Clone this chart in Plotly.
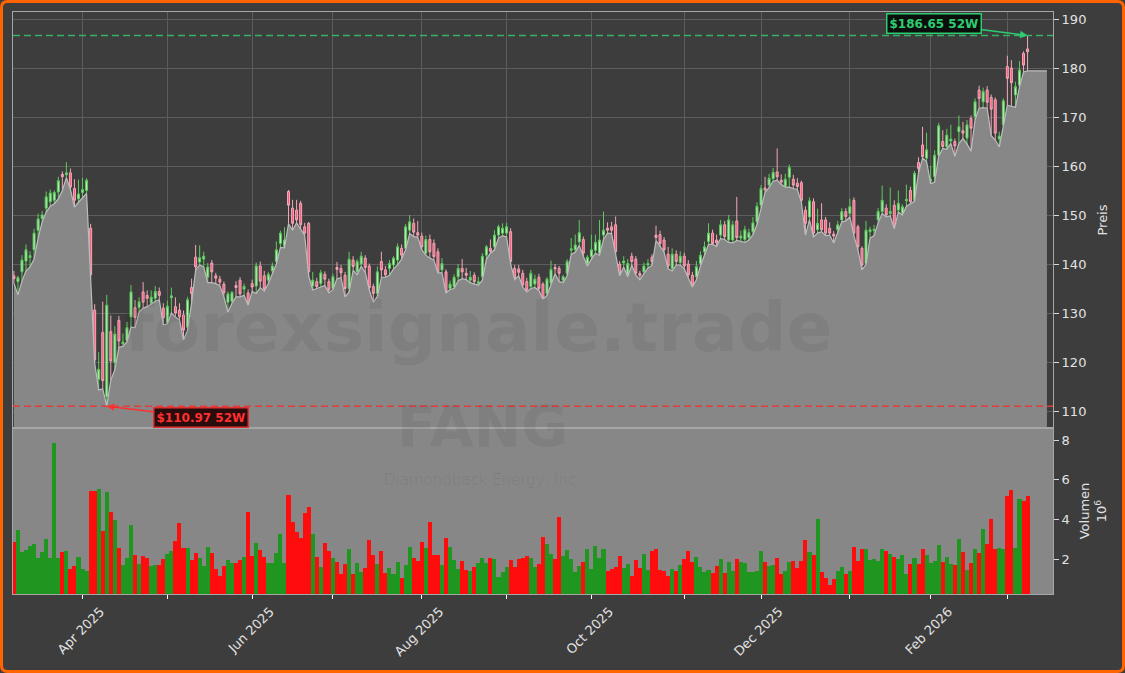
import pandas as pd
import plotly.graph_objects as go

# --- data (FANG daily) ---
HOLIDAYS = ["2025-04-18", "2025-05-26", "2025-06-19", "2025-07-04", "2025-09-01",
            "2025-11-27", "2025-12-25", "2026-01-01", "2026-01-19", "2026-02-16"]

opens = [
    137.6, 136.4, 138.4, 140.6, 141.3, 142.9, 146.9, 149.3, 151.4, 152.7,
    153.0, 154.7, 158.3, 158.2, 158.6, 155.4, 153.3, 154.6, 155.0, 147.3,
    130.6, 116.5, 126.0, 112.9, 126.2, 119.9, 128.5, 123.7, 124.4, 129.2,
    131.1, 131.1, 134.3, 133.6, 132.0, 133.0, 134.4, 131.0, 128.0, 133.1,
    131.3, 130.6, 129.6, 127.1, 135.2, 141.4, 140.4, 141.0, 137.3, 140.2,
    137.6, 136.9, 135.9, 132.2, 132.4, 135.6, 136.7, 134.9, 134.1, 136.0,
    135.5, 139.6, 137.6, 136.7, 138.6, 140.5, 144.2, 143.6, 154.8, 151.4,
    151.0, 152.4, 147.6, 148.3, 135.5, 136.4, 136.0, 137.9, 136.4, 135.0,
    139.3, 139.1, 137.7, 135.0, 140.8, 138.4, 140.0, 141.2, 139.6, 135.4,
    134.0, 140.5, 138.8, 139.1, 139.8, 140.8, 143.2, 143.2, 146.9, 148.3,
    146.4, 145.7, 142.2, 145.0, 144.2, 142.5, 138.8, 138.4, 135.0, 135.4,
    137.4, 139.1, 138.1, 136.7, 137.7, 136.0, 137.4, 141.8, 143.2, 143.5,
    145.9, 146.3, 146.3, 146.6, 139.1, 139.0, 138.1, 136.4, 135.4, 135.9,
    137.3, 135.9, 134.0, 136.1, 139.3, 139.1, 136.7, 138.1, 142.8, 142.9,
    144.5, 145.0, 140.1, 141.5, 142.8, 142.2, 145.9, 147.3, 147.6, 148.0,
    140.0, 140.2, 137.8, 141.6, 141.0, 138.1, 138.4, 139.8, 141.4, 145.9,
    146.0, 144.9, 142.0, 139.1, 142.0, 140.3, 141.6, 140.0, 137.7, 137.4,
    140.1, 142.5, 144.6, 146.3, 144.9, 145.9, 148.0, 144.9, 144.9, 148.8,
    145.3, 145.0, 145.4, 146.6, 148.6, 152.0, 155.5, 156.1, 157.4, 158.8,
    157.1, 155.9, 157.7, 157.3, 156.5, 156.6, 151.0, 149.6, 152.7, 147.0,
    149.0, 149.0, 147.3, 146.1, 147.0, 149.0, 150.7, 150.3, 153.0, 147.6,
    143.2, 140.1, 146.6, 146.8, 149.0, 150.7, 151.4, 150.3, 152.0, 151.0,
    150.4, 152.9, 155.0, 153.0, 160.7, 164.3, 161.6, 156.9, 157.8, 162.2,
    165.0, 163.9, 165.1, 165.0, 167.0, 167.2, 165.7, 169.7, 170.1, 175.5,
    173.1, 175.5, 174.0, 173.5, 165.5, 168.4, 180.3, 180.0, 174.5, 176.5, 183.0, 183.9,
]
highs = [
    138.6, 137.6, 141.8, 144.0, 142.6, 147.2, 150.3, 150.8, 154.8, 155.2,
    155.0, 157.8, 158.9, 160.8, 159.5, 157.3, 157.2, 157.6, 157.5, 148.2,
    131.8, 122.0, 132.3, 133.7, 129.5, 127.3, 129.4, 125.8, 128.2, 135.7,
    132.6, 133.2, 136.3, 134.6, 134.6, 135.5, 135.2, 132.0, 132.5, 135.2,
    133.2, 132.0, 130.5, 133.3, 137.0, 143.9, 143.8, 142.5, 140.2, 140.8,
    138.2, 137.6, 136.4, 134.4, 134.5, 136.5, 137.3, 136.0, 134.8, 136.8,
    140.3, 140.5, 138.6, 138.4, 140.3, 144.6, 146.8, 147.5, 155.1, 153.1,
    153.1, 152.9, 148.4, 148.6, 138.4, 137.2, 138.8, 138.5, 137.0, 138.0,
    140.4, 139.8, 138.4, 142.5, 141.6, 141.0, 142.5, 141.8, 140.1, 136.0,
    139.5, 142.5, 139.6, 140.8, 141.6, 144.2, 144.0, 148.2, 150.0, 149.3,
    148.8, 146.4, 145.8, 146.0, 145.0, 143.2, 141.2, 138.9, 136.6, 137.9,
    140.0, 141.0, 139.2, 138.6, 138.3, 137.4, 142.2, 143.9, 145.0, 146.9,
    148.0, 148.3, 148.4, 147.3, 139.8, 139.8, 138.8, 137.2, 138.8, 137.8,
    138.0, 136.3, 137.3, 140.7, 140.0, 139.6, 137.8, 141.0, 145.3, 146.0,
    149.0, 145.6, 141.8, 146.0, 146.0, 149.0, 150.7, 148.5, 148.6, 149.7,
    140.6, 141.6, 141.0, 142.3, 141.6, 138.6, 140.3, 141.0, 142.0, 147.8,
    146.8, 145.5, 143.5, 143.2, 142.8, 142.6, 142.3, 140.8, 138.4, 140.6,
    142.6, 144.6, 148.3, 147.0, 146.0, 149.0, 148.8, 150.0, 148.8, 153.7,
    146.8, 147.8, 147.2, 149.6, 152.6, 156.1, 157.8, 158.4, 159.6, 163.6,
    158.3, 158.4, 160.3, 158.2, 157.5, 157.0, 151.8, 153.6, 153.4, 151.3,
    152.4, 149.6, 148.5, 146.7, 148.8, 151.4, 151.4, 153.3, 153.6, 148.0,
    143.6, 148.8, 147.6, 148.0, 151.4, 156.0, 152.2, 155.6, 153.0, 155.0,
    152.2, 156.2, 155.8, 159.0, 161.8, 168.0, 166.8, 160.0, 163.2, 168.8,
    167.3, 167.6, 168.4, 165.6, 170.3, 169.0, 169.4, 170.3, 173.8, 176.4,
    176.0, 176.3, 174.6, 174.0, 167.0, 173.8, 182.5, 181.6, 177.2, 181.4, 183.4, 186.65,
]
lows = [
    136.1, 133.7, 136.5, 138.6, 139.4, 141.0, 145.3, 148.6, 150.6, 151.8,
    152.3, 153.3, 155.0, 157.6, 155.2, 151.6, 152.6, 153.6, 154.4, 137.2,
    119.8, 114.3, 114.5, 110.97, 116.3, 118.4, 123.0, 123.2, 124.1, 127.1,
    127.0, 130.2, 131.0, 131.3, 131.8, 132.4, 132.7, 127.6, 127.8, 130.0,
    129.2, 128.6, 124.5, 126.5, 132.0, 138.8, 139.8, 139.4, 136.2, 136.2,
    136.0, 135.6, 133.3, 130.2, 132.0, 133.3, 133.3, 133.6, 131.6, 134.4,
    134.0, 135.2, 134.5, 136.0, 138.0, 140.0, 143.4, 143.3, 148.2, 146.9,
    148.4, 147.0, 145.9, 137.5, 134.7, 135.0, 135.3, 135.6, 134.1, 134.8,
    137.0, 137.2, 133.3, 134.3, 138.7, 137.8, 139.5, 138.3, 134.7, 132.2,
    133.4, 137.3, 137.3, 137.7, 139.0, 139.8, 141.0, 142.9, 146.2, 145.6,
    145.5, 142.9, 141.8, 141.2, 140.8, 138.2, 138.2, 134.1, 134.8, 135.0,
    136.6, 137.0, 136.8, 136.2, 135.9, 135.7, 136.7, 141.0, 142.2, 142.9,
    145.3, 145.8, 145.5, 140.0, 136.8, 137.6, 135.3, 134.3, 135.0, 135.2,
    134.6, 132.9, 133.6, 135.7, 138.0, 136.4, 136.2, 137.6, 142.0, 142.4,
    143.8, 141.6, 139.6, 141.0, 142.2, 141.8, 145.0, 146.3, 146.2, 142.0,
    137.6, 139.4, 137.4, 139.8, 137.7, 136.8, 137.9, 139.2, 139.7, 144.8,
    143.6, 142.4, 139.0, 138.6, 139.8, 139.8, 139.0, 137.3, 135.3, 136.8,
    139.6, 141.8, 144.0, 144.0, 143.6, 145.2, 145.0, 144.4, 144.3, 144.8,
    144.6, 144.4, 144.9, 146.0, 148.0, 151.4, 154.6, 155.6, 156.9, 157.1,
    156.2, 155.7, 155.7, 155.4, 155.2, 152.6, 145.9, 149.0, 145.5, 146.3,
    146.6, 145.8, 145.9, 144.3, 146.4, 148.6, 148.8, 149.6, 145.8, 142.9,
    138.8, 139.9, 145.3, 145.8, 148.4, 150.3, 149.6, 149.8, 147.2, 150.6,
    150.0, 151.8, 152.3, 152.8, 158.6, 161.6, 160.9, 156.4, 156.7, 162.0,
    163.6, 163.4, 164.6, 162.0, 164.6, 165.6, 164.5, 163.0, 169.4, 171.8,
    171.9, 171.8, 166.2, 165.3, 163.9, 168.0, 172.4, 172.2, 172.0, 176.1, 179.2, 179.4,
]
closes = [
    137.0, 137.2, 140.8, 142.9, 141.7, 146.3, 149.2, 150.0, 153.7, 154.5,
    154.6, 157.0, 157.8, 158.6, 155.7, 153.0, 154.3, 155.2, 157.1, 137.8,
    120.4, 118.5, 116.2, 131.6, 120.2, 125.7, 124.3, 124.1, 127.0, 134.3,
    129.1, 132.3, 132.2, 133.0, 133.2, 134.4, 133.6, 129.0, 131.4, 133.5,
    130.0, 129.2, 126.5, 132.7, 134.0, 139.4, 141.3, 141.6, 139.4, 138.4,
    137.1, 136.3, 134.1, 133.9, 134.2, 135.2, 133.9, 135.4, 132.1, 135.3,
    139.6, 136.5, 134.9, 137.9, 139.6, 142.9, 146.3, 144.9, 152.0, 148.3,
    149.0, 148.0, 146.3, 138.4, 136.7, 135.4, 138.2, 136.9, 134.7, 137.4,
    138.9, 138.2, 135.0, 141.0, 139.5, 140.5, 141.6, 139.3, 135.2, 134.0,
    138.4, 138.8, 137.8, 140.1, 141.2, 143.5, 141.8, 147.6, 148.6, 146.5,
    145.9, 143.5, 145.0, 142.5, 141.5, 138.4, 140.1, 134.4, 135.9, 137.3,
    139.1, 138.4, 137.7, 137.3, 136.4, 136.4, 141.6, 143.5, 142.6, 145.9,
    147.6, 147.3, 147.6, 140.5, 137.1, 138.3, 135.7, 134.7, 138.1, 136.9,
    135.0, 133.0, 136.9, 138.9, 139.0, 138.1, 137.4, 140.5, 143.1, 143.9,
    146.4, 142.2, 141.4, 142.9, 144.4, 144.9, 146.9, 146.9, 146.9, 142.5,
    138.1, 140.6, 140.1, 140.5, 138.1, 137.6, 139.6, 140.1, 140.5, 145.4,
    144.2, 142.9, 139.6, 142.0, 140.5, 141.6, 139.6, 137.8, 135.7, 139.5,
    141.8, 143.5, 146.3, 144.2, 144.3, 148.0, 145.6, 149.0, 148.0, 145.4,
    145.7, 147.0, 146.4, 148.4, 151.8, 155.4, 155.1, 157.5, 158.7, 157.8,
    156.7, 157.3, 159.7, 156.1, 155.8, 153.0, 148.3, 152.9, 146.3, 148.3,
    147.0, 146.3, 146.3, 145.7, 148.0, 150.7, 149.7, 151.7, 146.3, 143.5,
    139.8, 146.9, 147.0, 147.1, 150.7, 153.0, 150.0, 150.7, 147.6, 152.4,
    151.7, 153.2, 152.7, 158.5, 159.5, 161.9, 163.3, 157.3, 162.2, 168.2,
    164.0, 166.3, 165.5, 164.1, 168.0, 166.7, 168.4, 167.7, 173.1, 173.8,
    175.2, 173.0, 171.6, 166.7, 166.1, 173.3, 177.9, 177.0, 176.2, 179.6, 180.6, 183.3,
]
volume_mio = [
    2.84, 3.46, 2.37, 2.46, 2.66, 2.76, 2.03, 2.37, 3.01, 2.07,
    7.87, 2.07, 2.35, 2.40, 1.50, 1.67, 2.10, 1.50, 1.40, 5.45,
    5.45, 5.53, 3.41, 5.38, 4.37, 3.97, 2.56, 1.70, 2.07, 3.72,
    2.22, 1.75, 2.15, 2.07, 1.67, 1.70, 1.70, 2.02, 2.24, 2.40,
    2.91, 3.83, 2.57, 2.57, 1.95, 2.32, 2.07, 1.67, 2.62, 2.30,
    1.50, 1.16, 1.67, 1.95, 1.82, 1.82, 1.95, 2.12, 4.39, 2.15,
    2.83, 2.46, 2.12, 1.82, 1.78, 2.32, 3.26, 1.82, 5.23, 3.88,
    3.38, 3.04, 4.30, 4.60, 3.26, 2.12, 1.60, 2.79, 2.40, 2.07,
    1.83, 1.25, 1.75, 2.50, 1.25, 1.78, 1.36, 1.56, 2.96, 2.20,
    1.75, 2.40, 1.31, 1.55, 1.25, 1.83, 1.03, 1.70, 2.61, 2.07,
    1.92, 2.84, 2.54, 3.87, 2.20, 2.20, 1.70, 3.06, 2.62, 1.95,
    1.50, 1.90, 1.46, 1.41, 1.60, 1.78, 2.07, 1.78, 2.07, 2.00,
    1.11, 1.33, 1.60, 1.95, 1.60, 2.00, 2.07, 2.15, 2.07, 1.60,
    1.75, 3.13, 2.76, 2.25, 2.00, 4.14, 2.15, 2.46, 1.98, 1.36,
    1.65, 1.87, 2.50, 1.50, 2.66, 2.07, 2.50, 1.40, 1.50, 1.60,
    2.15, 1.56, 1.75, 1.16, 1.95, 1.56, 2.24, 1.45, 2.40, 2.50,
    1.45, 1.40, 1.16, 1.50, 1.40, 1.70, 2.00, 2.40, 1.83, 2.12,
    1.60, 1.36, 1.45, 1.31, 1.67, 2.00, 1.31, 1.87, 1.40, 2.00,
    1.87, 1.78, 1.36, 1.36, 1.40, 2.40, 1.87, 1.67, 1.70, 2.07,
    1.25, 1.40, 1.87, 1.90, 1.56, 1.90, 2.96, 2.34, 2.20, 4.00,
    1.33, 1.03, 0.69, 1.00, 1.40, 1.60, 1.25, 1.40, 2.62, 1.92,
    2.50, 2.50, 1.95, 2.00, 1.90, 2.50, 2.40, 2.25, 2.10, 2.00,
    2.20, 1.25, 1.75, 2.05, 1.75, 2.50, 2.20, 1.80, 1.90, 2.70,
    1.85, 2.10, 1.75, 1.70, 3.00, 2.35, 1.45, 1.80, 2.50, 2.30,
    3.50, 2.75, 4.00, 2.50, 2.55, 2.50, 5.20, 5.50, 2.55, 5.05, 4.90, 5.20,
]
assert len(opens) == len(highs) == len(lows) == len(closes) == len(volume_mio)

TICKER = "FANG"
COMPANY = "Diamondback Energy, Inc"
WATERMARK = "forexsignale.trade"

# --- layout geometry (pixels) ---
W, H = 1125, 673
ML, MR, MT, MB = 13, 72, 12, 79
PW, PH = W - ML - MR, H - MT - MB
SPLIT = (594 - 428) / PH          # volume panel share of plot height


def px(x):
    return (x - ML) / PW


def py(y):
    return (H - MB - y) / PH


dates = pd.bdate_range("2025-03-07", periods=len(closes), freq="C", holidays=HOLIDAYS)
idx = list(range(len(closes)))
n = len(idx)

month_pos, month_txt = [], []
for i in range(1, n):
    if dates[i].month != dates[i - 1].month:
        month_pos.append(i)
        month_txt.append(dates[i].strftime("%b %Y") if dates[i].month % 2 == 0 else " ")

hi, lo = max(highs), min(lows)
i_hi, i_lo = highs.index(hi), lows.index(lo)

UP, DOWN = "#1f961f", "#ff0d0d"
vol_colors = [UP if c >= o else DOWN for o, c in zip(opens, closes)]

BG = "#3d3d3d"
GRAY = "#878787"
TXT = "#e2e2e2"
FONT = "DejaVu Sans"

fig = go.Figure()

# low-price area
fig.add_trace(go.Scatter(
    x=idx + [n + 3.8], y=lows + [lows[-1]],
    mode="lines", line=dict(color="#bdbdbd", width=1.2),
    fill="tozeroy", fillcolor=GRAY, hoverinfo="skip", showlegend=False,
))

fig.add_trace(go.Candlestick(
    x=idx, open=opens, high=highs, low=lows, close=closes,
    increasing=dict(line=dict(color="#5ccc5c", width=1), fillcolor="#c4ecc4"),
    decreasing=dict(line=dict(color="#f0a8b8", width=1), fillcolor="#ff5a7a"),
    whiskerwidth=0, showlegend=False,
))

fig.add_trace(go.Bar(
    x=idx, y=volume_mio, marker=dict(color=vol_colors, line=dict(width=0)),
    width=1.0, xaxis="x2", yaxis="y2", showlegend=False,
))

axis_common = dict(showline=True, linecolor="#a6a6a6", linewidth=1, mirror=True,
                   zeroline=False, automargin=False)

fig.update_layout(
    width=W, height=H,
    margin=dict(l=ML, r=MR, t=MT, b=MB),
    paper_bgcolor=BG, plot_bgcolor=BG,
    font=dict(family=FONT, color=TXT, size=13),
    bargap=0,
    xaxis=dict(domain=[0, 1], anchor="y", range=[-0.22, n + 5.3],
               tickvals=month_pos, showticklabels=False, ticks="",
               showgrid=True, gridcolor="#5d5d5d", gridwidth=1,
               rangeslider=dict(visible=False), **axis_common),
    yaxis=dict(domain=[SPLIT, 1], anchor="x", side="right", range=[106.53, 191.43],
               tickvals=list(range(110, 191, 10)), ticks="outside", ticklen=5,
               tickcolor="#d8d8d8", tickfont=dict(size=13, color=TXT),
               showgrid=True, gridcolor="#5d5d5d", gridwidth=1,
               title=dict(text="Preis", font=dict(size=13, color=TXT), standoff=12),
               **axis_common),
    xaxis2=dict(domain=[0, 1], anchor="y2", matches="x",
                tickvals=month_pos, ticktext=month_txt, tickangle=-45,
                ticklabelshift=18, ticklabelstandoff=0,
                ticks="outside", ticklen=4, tickcolor="#ffffff",
                tickfont=dict(size=13, color=TXT), showgrid=False, **axis_common),
    yaxis2=dict(domain=[0, SPLIT], anchor="x2", side="right", range=[0.235, 8.605],
                tickvals=[2, 4, 6, 8], ticks="outside", ticklen=5, tickcolor="#d8d8d8",
                tickfont=dict(size=13, color=TXT), showgrid=False,
                title=dict(text="Volumen<br>10<sup>6</sup>", font=dict(size=13, color=TXT),
                           standoff=11),
                **axis_common),
)

# volume panel background
fig.add_shape(type="rect", xref="x2 domain", yref="y2 domain", x0=0, x1=1, y0=0, y1=1,
              fillcolor=GRAY, line=dict(width=0), layer="below")

# 52 week lines
fig.add_shape(type="line", xref="x domain", yref="y", x0=0, x1=1, y0=hi, y1=hi,
              line=dict(color="#35b266", width=1.5, dash="7px,4px"))
fig.add_shape(type="line", xref="x domain", yref="y", x0=0, x1=1, y0=lo, y1=lo,
              line=dict(color="#e23c3c", width=1.5, dash="7px,4px"))

fig.add_annotation(x=i_hi, y=hi, xref="x", yref="y", text=f"<b>${hi:.2f} 52W</b>",
                   showarrow=True, ax=-94, ay=-12, arrowhead=2, arrowsize=1, arrowwidth=1.5,
                   arrowcolor="#2ecc71", font=dict(family=FONT, size=12, color="#2ecc71"),
                   bgcolor="#0b0f0c", bordercolor="#2ecc71", borderwidth=1.5, borderpad=2)
fig.add_annotation(x=i_lo, y=lo, xref="x", yref="y", text=f"<b>${lo:.2f} 52W</b>",
                   showarrow=True, ax=94, ay=11, arrowhead=2, arrowsize=1, arrowwidth=1.5,
                   arrowcolor="#ff3030", font=dict(family=FONT, size=12, color="#ff3030"),
                   bgcolor="#2a0c0c", bordercolor="#e03030", borderwidth=1.5, borderpad=2)

# watermarks
fig.add_annotation(x=px(478), y=py(327), xref="paper", yref="paper", text=WATERMARK,
                   showarrow=False, font=dict(family=FONT, size=68, color="rgba(0,0,0,0.06)",
                                              weight="bold"))
fig.add_annotation(x=px(482), y=py(462), xref="paper", yref="paper", text=TICKER,
                   showarrow=False, font=dict(family=FONT, size=57, color="rgba(0,0,0,0.06)",
                                              weight="bold"))
fig.add_annotation(x=px(480), y=py(491), xref="paper", yref="paper", text=COMPANY,
                   showarrow=False, font=dict(family=FONT, size=15, color="rgba(0,0,0,0.06)"))

# orange rounded frame
r = 6
x0, x1, y0, y1 = 1.5, W - 1.5, 1.5, H - 1.5
rx, ry = r / PW, r / PH
path = (f"M {px(x0 + r)},{py(y0)} L {px(x1 - r)},{py(y0)} Q {px(x1)},{py(y0)} {px(x1)},{py(y0) - ry} "
        f"L {px(x1)},{py(y1) + ry} Q {px(x1)},{py(y1)} {px(x1) - rx},{py(y1)} "
        f"L {px(x0) + rx},{py(y1)} Q {px(x0)},{py(y1)} {px(x0)},{py(y1) + ry} "
        f"L {px(x0)},{py(y0) - ry} Q {px(x0)},{py(y0)} {px(x0) + rx},{py(y0)} Z")
fig.add_shape(type="path", xref="paper", yref="paper", path=path,
              line=dict(color="#ff6400", width=3))

fig.write_html("out.html", config={"displayModeBar": False},
               post_script="document.body.style.margin='0';")
